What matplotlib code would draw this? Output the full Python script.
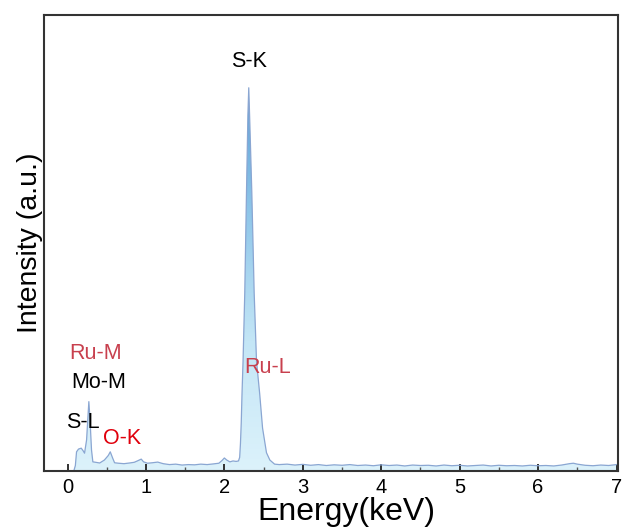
import matplotlib.pyplot as plt
import numpy as np
from matplotlib.colors import LinearSegmentedColormap
from matplotlib.ticker import MultipleLocator

plt.rcParams['font.family'] = ['Liberation Sans', 'DejaVu Sans']

# --- EDS spectrum (energy in keV, intensity in a.u.) ---
energy_low = [0.08, 0.10, 0.115, 0.14, 0.175, 0.20, 0.217, 0.243, 0.272, 0.287,
              0.306, 0.323, 0.36, 0.41, 0.47, 0.52, 0.545, 0.575, 0.60, 0.65,
              0.72, 0.79, 0.85, 0.89, 0.94, 0.97, 1.02, 1.08, 1.15, 1.22,
              1.30, 1.38, 1.46, 1.54, 1.62, 1.70, 1.78, 1.86, 1.93, 1.97,
              2.00, 2.03, 2.07, 2.11, 2.15, 2.18]
intensity_low = [0.0, 1.2, 4.2, 4.8, 5.0, 4.4, 3.9, 6.8, 15.2, 11.2,
                 4.6, 2.0, 1.9, 1.75, 2.4, 3.4, 4.2, 2.85, 1.8, 1.7,
                 1.6, 1.75, 1.9, 2.2, 2.6, 2.0, 1.7, 1.8, 1.95, 1.6,
                 1.4, 1.5, 1.3, 1.4, 1.35, 1.5, 1.4, 1.55, 1.7, 2.3,
                 2.85, 2.4, 2.0, 2.2, 2.1, 2.2]

energy_sk = [2.195, 2.205, 2.215, 2.225, 2.238, 2.26, 2.282, 2.30, 2.311, 2.325,
             2.35, 2.38, 2.41, 2.45, 2.487, 2.537, 2.58, 2.64, 2.70]
intensity_sk = [3.0, 6.0, 10.5, 17.0, 24.0, 39.0, 61.0, 78.0, 84.0, 76.0,
                61.0, 39.0, 24.0, 17.0, 9.4, 4.0, 2.4, 1.5, 1.4]

energy_high = [2.8, 2.9, 3.0, 3.1, 3.2, 3.3, 3.4, 3.5, 3.6, 3.7,
               3.8, 3.9, 4.0, 4.1, 4.2, 4.3, 4.4, 4.5, 4.6, 4.7,
               4.8, 4.9, 5.0, 5.1, 5.2, 5.3, 5.4, 5.5, 5.6, 5.7,
               5.8, 5.9, 6.0, 6.1, 6.2, 6.3, 6.4, 6.45, 6.5, 6.6,
               6.7, 6.8, 6.9, 7.0, 7.05]
intensity_high = [1.5, 1.3, 1.45, 1.25, 1.4, 1.2, 1.35, 1.25, 1.4, 1.2,
                  1.3, 1.15, 1.35, 1.2, 1.3, 1.1, 1.3, 1.2, 1.25, 1.1,
                  1.3, 1.15, 1.25, 1.1, 1.2, 1.3, 1.1, 1.25, 1.15, 1.2,
                  1.1, 1.25, 1.15, 1.2, 1.1, 1.3, 1.6, 1.7, 1.5, 1.25,
                  1.15, 1.3, 1.2, 1.4, 1.5]

energy = np.array(energy_low + energy_sk + energy_high)
intensity = np.array(intensity_low + intensity_sk + intensity_high)

# peak labels: text, x, y, colour
peak_labels = [
    ('S-K', 2.32, 89.7, 'black'),
    ('Ru-L', 2.55, 22.6, '#c8404e'),
    ('Ru-M', 0.36, 25.7, '#c8404e'),
    ('Mo-M', 0.40, 19.5, 'black'),
    ('S-L', 0.19, 10.7, 'black'),
    ('O-K', 0.70, 7.2, '#e0000c'),
]

fig = plt.figure(figsize=(6.24, 5.28), dpi=100)
ax = fig.add_axes([0.0705, 0.108, 0.920, 0.864])

xmin, xmax = -0.3, 7.02
ymin, ymax = 0, 100

# gradient fill under the spectrum (light cyan at the bottom, blue at the top)
fill = ax.fill_between(energy, 0, intensity, color='none', lw=0)
cmap = LinearSegmentedColormap.from_list('eds', ['#dcf2fb', '#c4e6f6', '#8fc6e9', '#5a9fd6'])
grad = np.linspace(0, 1, 256).reshape(-1, 1)
img = ax.imshow(grad, cmap=cmap, origin='lower', aspect='auto',
                extent=[xmin, xmax, 0, 85], zorder=1)
img.set_clip_path(fill.get_paths()[0], transform=ax.transData)

ax.plot(energy, intensity, color='#8aa6d2', lw=0.9, zorder=2)

for text, x, y, c in peak_labels:
    ax.text(x, y, text, color=c, fontsize=15.5, ha='center', va='center', zorder=3)

ax.set_xlim(xmin, xmax)
ax.set_ylim(ymin, ymax)
ax.set_yticks([])
ax.xaxis.set_major_locator(MultipleLocator(1))
ax.xaxis.set_minor_locator(MultipleLocator(0.5))
ax.tick_params(axis='x', which='major', direction='in', length=5, width=1.3,
               labelsize=14.5, pad=5, color='#222222')
ax.tick_params(axis='x', which='minor', direction='in', length=3, width=1.0,
               color='#555555')
for s in ax.spines.values():
    s.set_linewidth(1.5)
    s.set_color('#333333')

ax.set_xlabel('Energy(keV)', fontsize=23, va='top')
ax.xaxis.set_label_coords(0.526, -0.056)
ax.set_ylabel('Intensity (a.u.)', fontsize=20.5, labelpad=1)

plt.savefig('out.png', dpi=100)
